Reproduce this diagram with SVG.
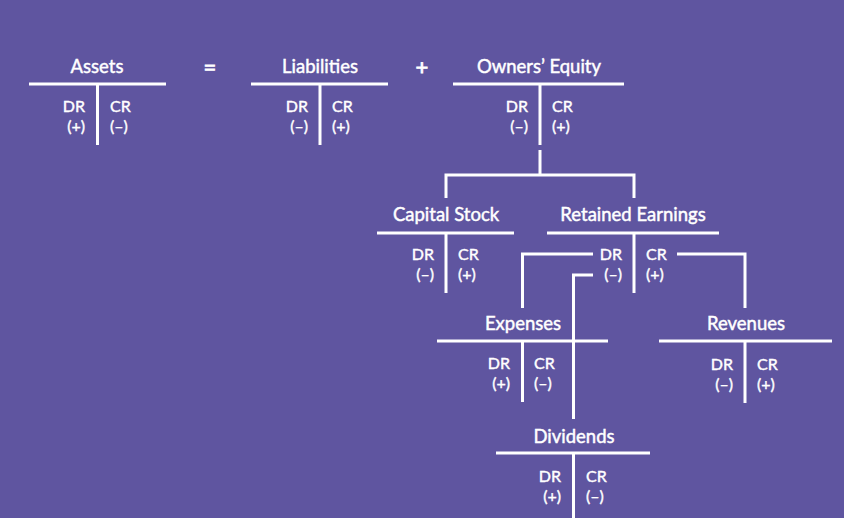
<svg xmlns="http://www.w3.org/2000/svg" width="844" height="518" viewBox="0 0 844 518">
<style>
.t{font-family:Lato,"Open Sans","Liberation Sans",sans-serif;fill:#fff;stroke:#fff;stroke-width:0.45;font-size:18.5px;text-anchor:middle}
.s{font-family:Lato,"Open Sans","Liberation Sans",sans-serif;fill:#fff;stroke:#fff;stroke-width:0.4;font-size:16px}
.o{font-size:22px;stroke-width:0.8}
.l{text-anchor:end}
.ln{stroke:#fff;stroke-width:3;fill:none}
</style>
<rect width="844" height="518" fill="#5F55A0"/>
<text class="t o" x="210" y="75">=</text>
<text class="t o" x="422" y="75">+</text>
<g id="assets">
<text class="t" x="97" y="73">Assets</text>
<path class="ln" d="M29 84H166M97.5 84V145"/>
<text class="s l" x="85" y="112">DR</text><text class="s" x="110" y="112">CR</text>
<text class="s l" x="85" y="132">(+)</text><text class="s" x="110" y="132">(–)</text>
</g>
<g id="liabilities">
<text class="t" x="320" y="73">Liabilities</text>
<path class="ln" d="M251 84H388M320 84V145"/>
<text class="s l" x="308" y="112">DR</text><text class="s" x="332" y="112">CR</text>
<text class="s l" x="308" y="132">(–)</text><text class="s" x="332" y="132">(+)</text>
</g>
<g id="owners-equity">
<text class="t" x="539" y="73">Owners’ Equity</text>
<path class="ln" d="M453 84H624M540 84V145"/>
<text class="s l" x="528" y="112">DR</text><text class="s" x="552" y="112">CR</text>
<text class="s l" x="528" y="132">(–)</text><text class="s" x="552" y="132">(+)</text>
</g>
<g id="capital-stock">
<text class="t" x="446" y="221">Capital Stock</text>
<path class="ln" d="M377 233H514M446 233V293"/>
<text class="s l" x="434" y="260">DR</text><text class="s" x="458" y="260">CR</text>
<text class="s l" x="434" y="280">(–)</text><text class="s" x="458" y="280">(+)</text>
</g>
<g id="retained-earnings">
<text class="t" x="633" y="221">Retained Earnings</text>
<path class="ln" d="M547 233H719M634 233V293"/>
<text class="s l" x="622" y="260">DR</text><text class="s" x="646" y="260">CR</text>
<text class="s l" x="622" y="280">(–)</text><text class="s" x="646" y="280">(+)</text>
</g>
<g id="expenses">
<text class="t" x="523" y="330">Expenses</text>
<path class="ln" d="M437 341H608M522.5 341V402"/>
<text class="s l" x="510" y="369">DR</text><text class="s" x="534" y="369">CR</text>
<text class="s l" x="510" y="389">(+)</text><text class="s" x="534" y="389">(–)</text>
</g>
<g id="revenues">
<text class="t" x="746" y="330">Revenues</text>
<path class="ln" d="M659 341H832M745 341V403"/>
<text class="s l" x="733" y="370">DR</text><text class="s" x="757" y="370">CR</text>
<text class="s l" x="733" y="390">(–)</text><text class="s" x="757" y="390">(+)</text>
</g>
<g id="dividends">
<text class="t" x="574" y="443">Dividends</text>
<path class="ln" d="M496 453H650M573.5 453V518"/>
<text class="s l" x="561" y="482">DR</text><text class="s" x="586" y="482">CR</text>
<text class="s l" x="561" y="502">(+)</text><text class="s" x="586" y="502">(–)</text>
</g>
<g id="connectors">
<path class="ln" d="M540 150V175M446 198V175H634V198"/>
<path class="ln" d="M593 254H522.5V308"/>
<path class="ln" d="M593 275H573.5V419"/>
<path class="ln" d="M677 254H745V308"/>
</g>
</svg>
